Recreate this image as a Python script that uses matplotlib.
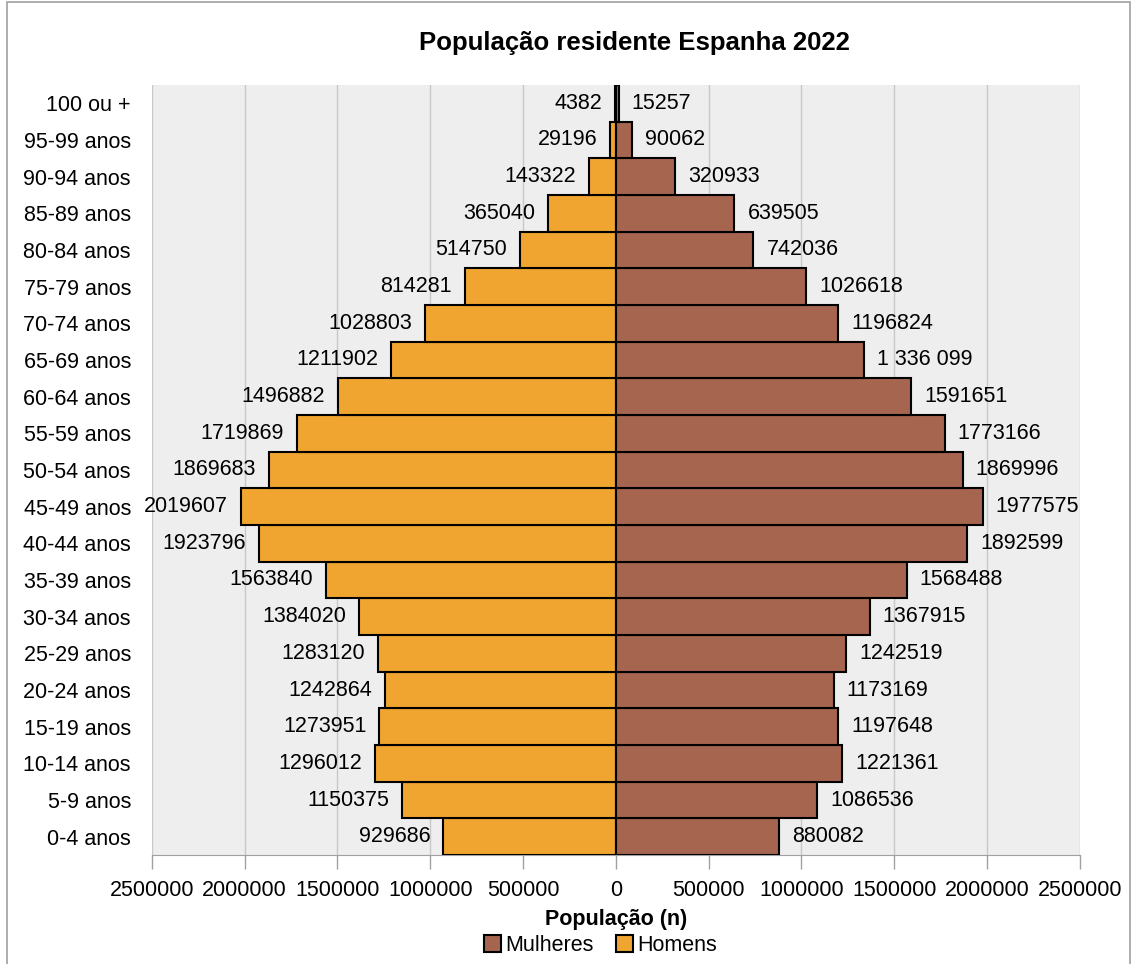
import matplotlib
matplotlib.use("Agg")
import matplotlib.pyplot as plt
from matplotlib.patches import Rectangle, Patch
import numpy as np

# age groups, youngest first (drawn bottom to top)
age_groups = ["0-4 anos", "5-9 anos", "10-14 anos", "15-19 anos", "20-24 anos",
              "25-29 anos", "30-34 anos", "35-39 anos", "40-44 anos", "45-49 anos",
              "50-54 anos", "55-59 anos", "60-64 anos", "65-69 anos", "70-74 anos",
              "75-79 anos", "80-84 anos", "85-89 anos", "90-94 anos", "95-99 anos",
              "100 ou +"]

homens = [929686, 1150375, 1296012, 1273951, 1242864, 1283120, 1384020, 1563840,
          1923796, 2019607, 1869683, 1719869, 1496882, 1211902, 1028803, 814281,
          514750, 365040, 143322, 29196, 4382]

mulheres = [880082, 1086536, 1221361, 1197648, 1173169, 1242519, 1367915, 1568488,
            1892599, 1977575, 1869996, 1773166, 1591651, 1336099, 1196824, 1026618,
            742036, 639505, 320933, 90062, 15257]

# this group's label is written with space separators
spaced_groups = ["65-69 anos"]

xticks = [-2500000, -2000000, -1500000, -1000000, -500000, 0,
          500000, 1000000, 1500000, 2000000, 2500000]

COL_H = "#F0A530"
COL_M = "#A6654E"
FS = 15.5

plt.rcParams["font.family"] = "Liberation Sans"

fig = plt.figure(figsize=(11.33, 9.64), dpi=100)
ax = fig.add_axes([0.134, 0.113, 0.819, 0.799])
ax.set_facecolor("#EEEEEE")

y = np.arange(len(age_groups))
ax.barh(y, -np.array(homens), height=1.0, color=COL_H, edgecolor="black", linewidth=1.5, zorder=3)
ax.barh(y, mulheres, height=1.0, color=COL_M, edgecolor="black", linewidth=1.5, zorder=3)

off = 70000
for i, (h, m) in enumerate(zip(homens, mulheres)):
    ax.text(-h - off, i, str(h), ha="right", va="center", fontsize=FS, clip_on=False, zorder=4)
    lab = f"{m:,}".replace(",", " ") if age_groups[i] in spaced_groups else str(m)
    ax.text(m + off, i, lab, ha="left", va="center", fontsize=FS, clip_on=False, zorder=4)

ax.set_xlim(-2500000, 2500000)
ax.set_ylim(-0.5, len(age_groups) - 0.5)
ax.set_xticks(xticks)
ax.set_xticklabels([str(abs(t)) for t in xticks], fontsize=FS)
ax.set_yticks(y)
ax.set_yticklabels(age_groups, fontsize=FS)
ax.tick_params(axis="y", length=0, pad=15)
ax.tick_params(axis="x", length=10, width=1, color="#A0A0A0", pad=8)
ax.grid(axis="x", color="#C8C8C8", linewidth=1, zorder=0)
ax.set_axisbelow(True)
for s in ["top", "right", "left"]:
    ax.spines[s].set_visible(False)
ax.spines["bottom"].set_color("#A0A0A0")

ax.set_xlabel("População (n)", fontsize=FS, fontweight="bold", labelpad=6)
fig.text(0.56, 0.955, "População residente Espanha 2022",
         ha="center", va="center", fontsize=18.5, fontweight="bold")

handles = [Patch(facecolor=COL_M, edgecolor="black", linewidth=1.5, label="Mulheres"),
           Patch(facecolor=COL_H, edgecolor="black", linewidth=1.5, label="Homens")]
fig.legend(handles=handles, loc="center", bbox_to_anchor=(0.53, 0.019), ncol=2,
           frameon=False, fontsize=FS, handlelength=0.8, handleheight=0.8,
           handletextpad=0.2, columnspacing=1.0, borderpad=0)

# thin frame around the whole figure
fig.patches.append(Rectangle((0.006, -0.01), 0.991, 1.008, transform=fig.transFigure,
                             fill=False, edgecolor="#A0A0A0", linewidth=1.2))

fig.savefig("out.png", dpi=100)
